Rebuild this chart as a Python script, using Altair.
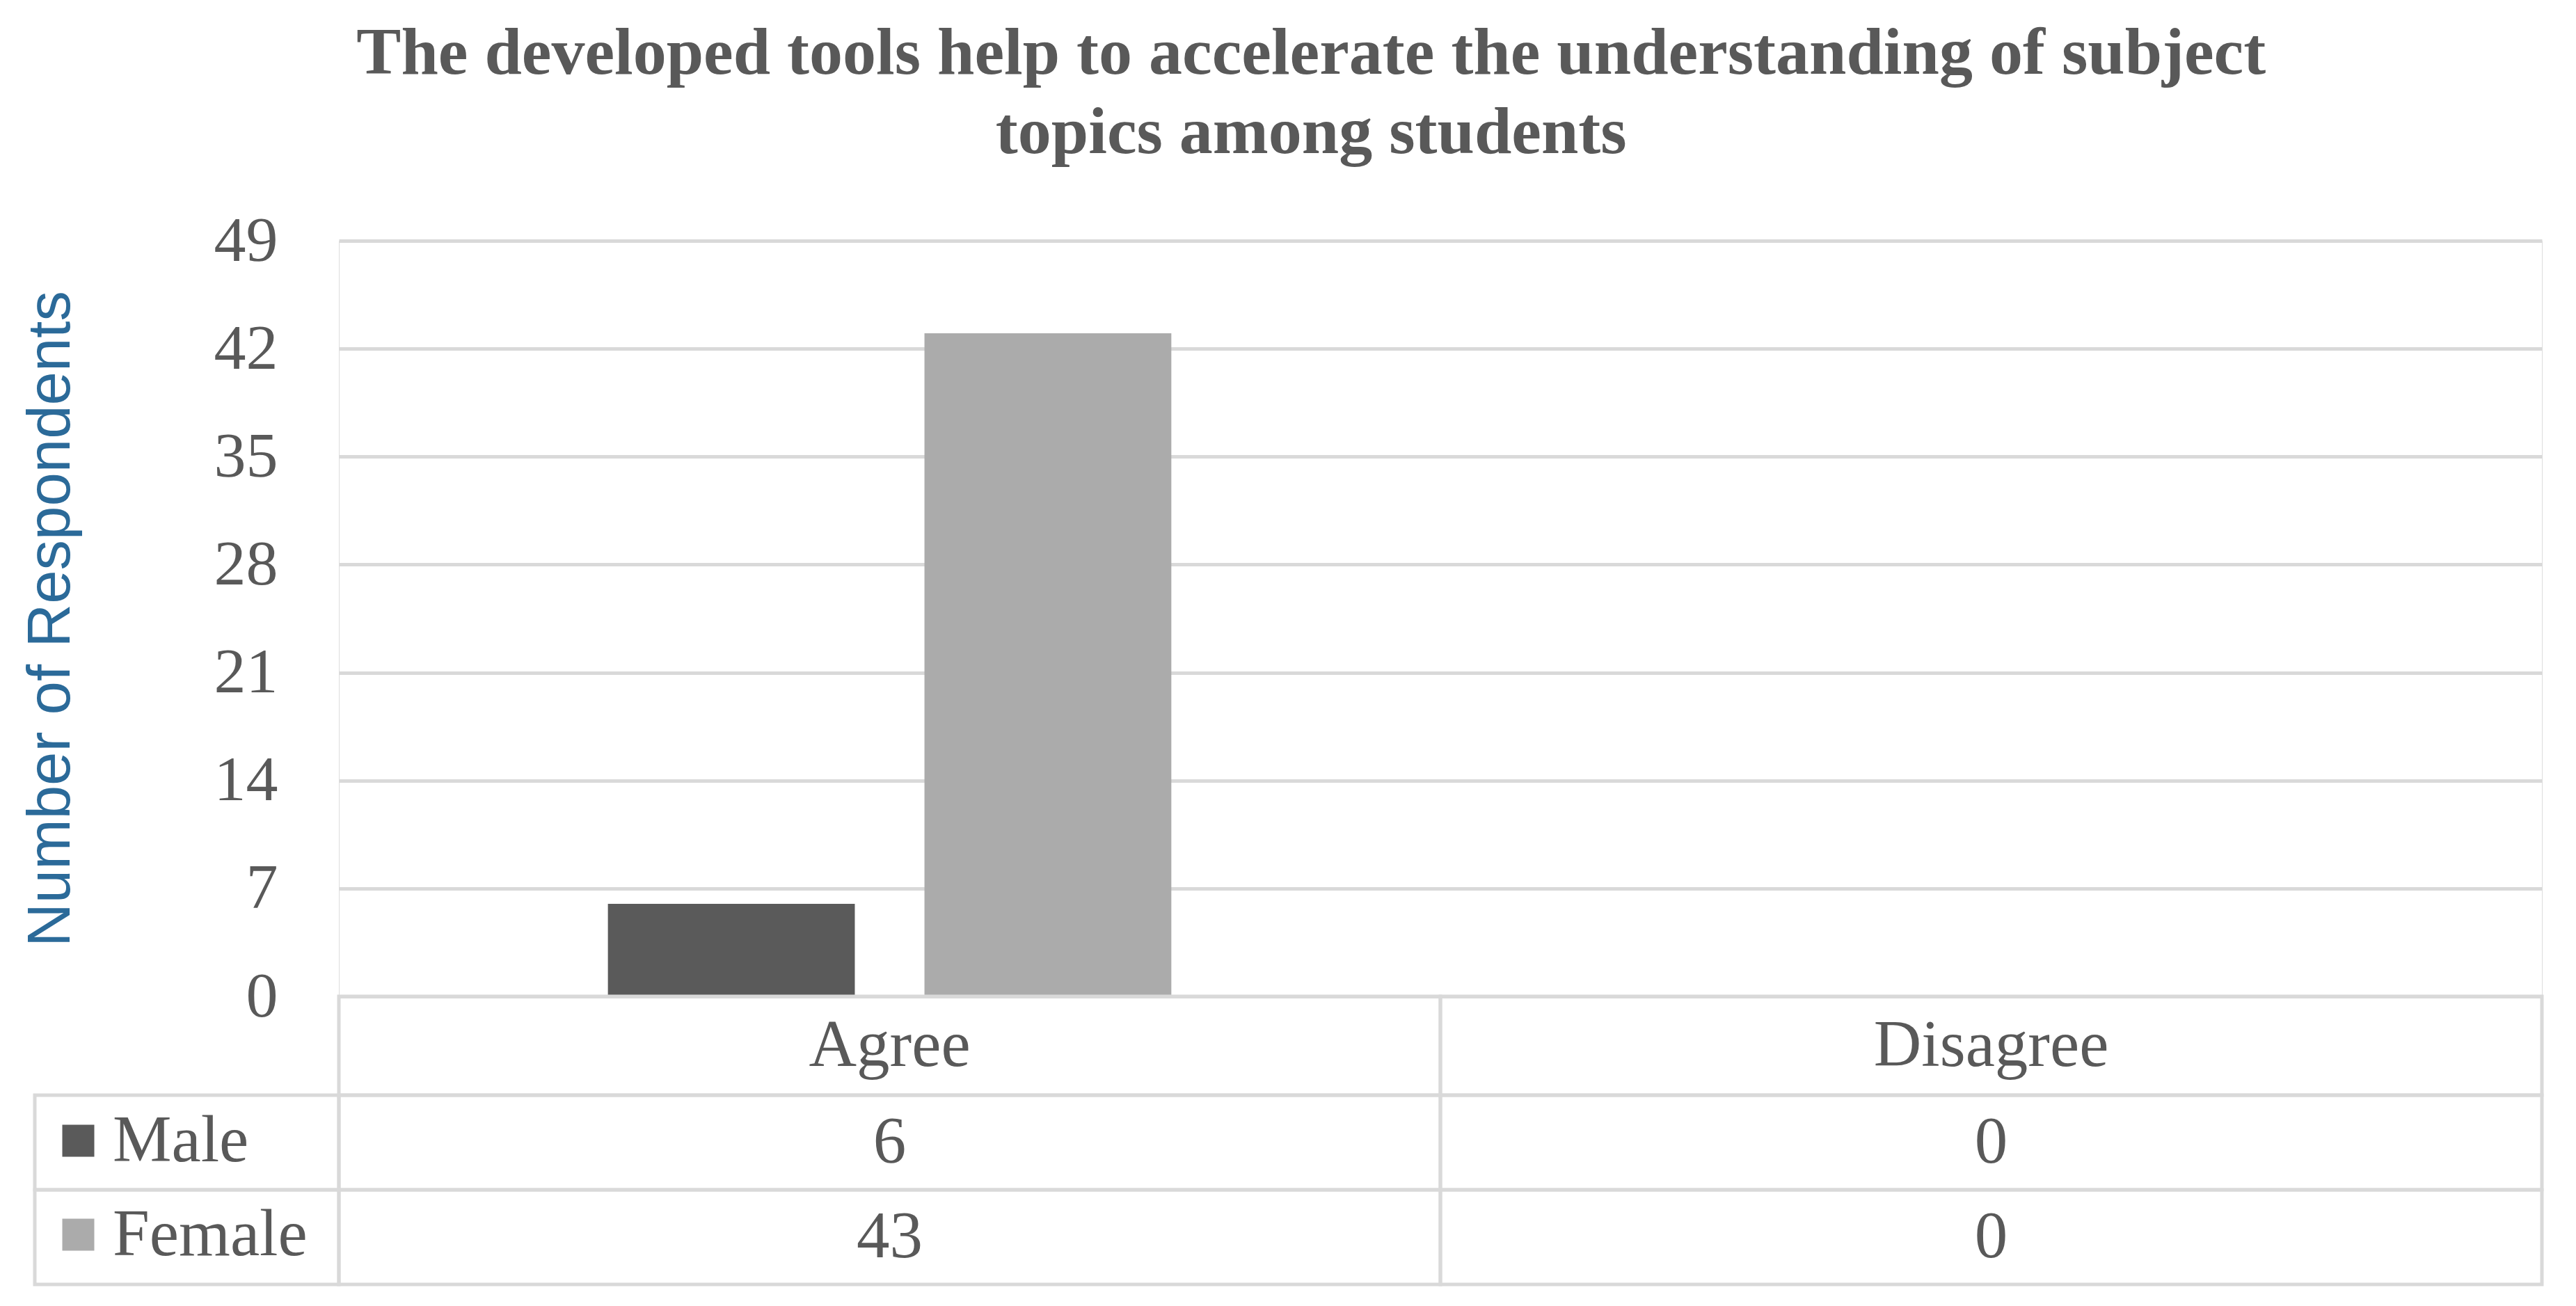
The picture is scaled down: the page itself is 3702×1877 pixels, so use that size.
import altair as alt
import pandas as pd

# ---- data ----
categories = ["Agree", "Disagree"]
genders = ["Male", "Female"]
male_values = [6, 0]
female_values = [43, 0]
y_ticks = [0, 7, 14, 21, 28, 35, 42, 49]
title_lines = [
    "The developed tools help to accelerate the understanding of subject",
    "topics among students",
]
y_title = "Number of Respondents"
bar_colors = ["#5a5a5a", "#ababab"]

rows = []
for i, c in enumerate(categories):
    rows.append({"Category": c, "Gender": "Male", "Value": male_values[i]})
    rows.append({"Category": c, "Gender": "Female", "Value": female_values[i]})
df = pd.DataFrame(rows)
df_cat = pd.DataFrame({"Category": categories})
df_gender = pd.DataFrame({"Gender": genders})

# ---- styles ----
SERIF = "Liberation Serif"
TXT = "#595959"
LINE = "#d9d9d9"
LW = 5
L = 437      # legend column width
W = 3166     # plot width
H = 1086     # plot height
HH = 142     # header row height
RH = 136     # value row height
FS = 95

x_scale = alt.Scale(domain=categories, paddingInner=0, paddingOuter=0)
g_scale = alt.Scale(domain=genders, paddingInner=0, paddingOuter=0)

bars = alt.Chart(df).mark_bar().encode(
    x=alt.X("Category:N", scale=x_scale, axis=None, sort=categories),
    xOffset=alt.XOffset("Gender:N",
                        scale=alt.Scale(domain=genders, paddingInner=0.22, paddingOuter=0.85),
                        sort=genders),
    y=alt.Y("Value:Q",
            scale=alt.Scale(domain=[0, 49], nice=False, zero=True),
            axis=alt.Axis(values=y_ticks, title=y_title,
                          titleFont="Liberation Sans", titleFontSize=87,
                          titleFontWeight="normal", titleColor="#2B6A99",
                          titlePadding=190,
                          labelFont=SERIF, labelFontSize=92, labelColor=TXT,
                          labelPadding=88, ticks=False, domain=False,
                          grid=True, gridColor=LINE, gridWidth=LW)),
    color=alt.Color("Gender:N",
                    scale=alt.Scale(domain=genders, range=bar_colors),
                    sort=genders,
                    legend=alt.Legend(orient="none", legendX=-422, legendY=1246,
                                      title=None, symbolType="square",
                                      symbolSize=2116, symbolStrokeWidth=0,
                                      labelFont=SERIF, labelFontSize=FS,
                                      labelColor=TXT, labelOffset=2,
                                      labelLimit=600,
                                      rowPadding=39, padding=0)),
).properties(width=W, height=H)

spacer1 = alt.Chart(df_cat).mark_text().encode(text=alt.value("")).properties(width=L, height=H)
spacer2 = alt.Chart(df_cat).mark_text().encode(text=alt.value("")).properties(width=L, height=HH)

header = alt.layer(
    alt.Chart(df_cat).mark_rect(fill="white", fillOpacity=0, stroke=LINE, strokeWidth=LW).encode(
        x=alt.X("Category:N", scale=x_scale, axis=None, sort=categories)),
    alt.Chart(df_cat).mark_text(font=SERIF, fontSize=FS, color=TXT, baseline="middle").encode(
        x=alt.X("Category:N", scale=x_scale, axis=None, sort=categories),
        text="Category:N"),
).properties(width=W, height=HH)

table = alt.layer(
    alt.Chart(df).mark_rect(fill="white", fillOpacity=0, stroke=LINE, strokeWidth=LW).encode(
        x=alt.X("Category:N", scale=x_scale, axis=None, sort=categories),
        y=alt.Y("Gender:N", scale=g_scale, axis=None, sort=genders)),
    alt.Chart(df).mark_text(font=SERIF, fontSize=FS, color=TXT, baseline="middle").encode(
        x=alt.X("Category:N", scale=x_scale, axis=None, sort=categories),
        y=alt.Y("Gender:N", scale=g_scale, axis=None, sort=genders),
        text="Value:Q"),
).properties(width=W, height=2 * RH)

legcol = alt.Chart(df_gender).mark_rect(fill="white", fillOpacity=0, stroke=LINE, strokeWidth=LW).encode(
    y=alt.Y("Gender:N", scale=g_scale, axis=None, sort=genders)
).properties(width=L, height=2 * RH)

chart = alt.concat(
    spacer1, bars, spacer2, header, legcol, table,
    columns=2, spacing=0, bounds="flush",
).properties(
    title=alt.TitleParams(text=title_lines, font=SERIF, fontSize=96, fontWeight="bold",
                          color=TXT, lineHeight=114, anchor="middle", offset=60, dx=42),
    padding={"left": 20, "top": 20, "right": 20, "bottom": 20},
).resolve_scale(color="independent").configure_view(stroke=None).configure(background="white")

chart.save("out.html", embed_options={"renderer": "svg", "actions": False})
